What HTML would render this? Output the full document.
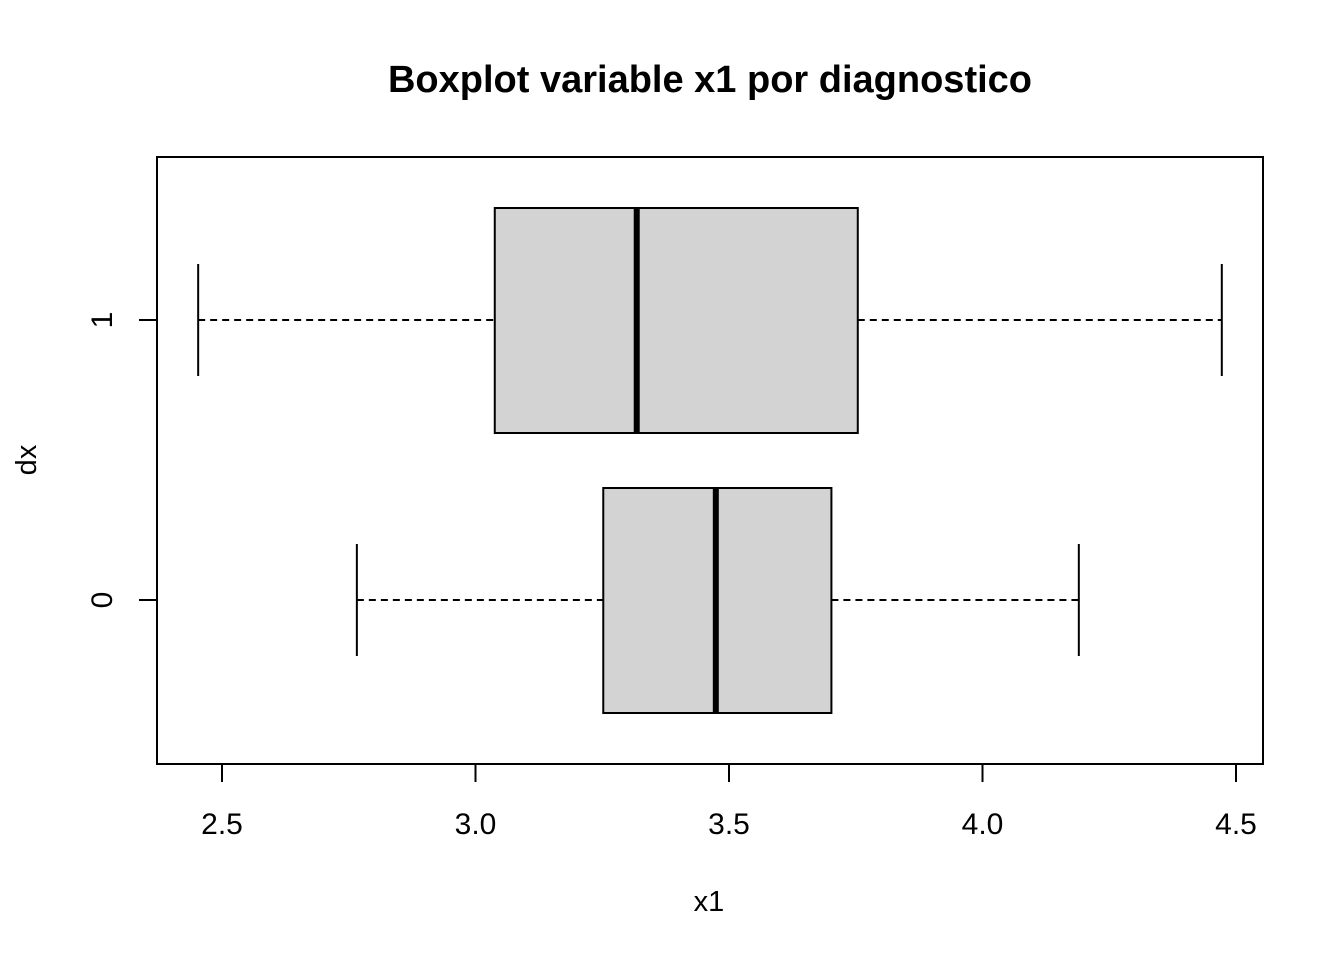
<!DOCTYPE html>
<html><head><meta charset="utf-8"><style>
body{margin:0;background:#fff;}
svg{display:block;font-family:"Liberation Sans",Arial,sans-serif;}
</style></head><body>
<svg id="chart" width="1344" height="960">
<text x="710" y="92" text-anchor="middle" font-size="38" font-weight="bold">Boxplot variable x1 por diagnostico</text>
<rect x="157" y="157" width="1106" height="607" fill="none" stroke="#000" stroke-width="2"/>
<g id="boxes"></g>
<g id="xaxis"></g>
<g id="yaxis"></g>
<text x="709" y="911" text-anchor="middle" font-size="29">x1</text>
<text transform="translate(36,460) rotate(-90)" text-anchor="middle" font-size="29">dx</text>
</svg>
<script>
const groups = ["0","1"];
const whiskerLow = [2.766, 2.453];
const q1 = [3.252, 3.038];
const median = [3.474, 3.318];
const q3 = [3.702, 3.754];
const whiskerHigh = [4.190, 4.472];
const xTicks = [2.5, 3.0, 3.5, 4.0, 4.5];
const xTickLabels = ["2.5","3.0","3.5","4.0","4.5"];

const NS="http://www.w3.org/2000/svg";
function X(v){return 222+(v-2.5)*507;}
function Y(i){return 600-i*280;}
function mk(tag,attrs,parent){const e=document.createElementNS(NS,tag);for(const k in attrs)e.setAttribute(k,attrs[k]);parent.appendChild(e);return e;}
const bx=document.getElementById('boxes');
groups.forEach((g,i)=>{
  const y=Y(i);
  const gg=mk('g',{},bx);
  
  
  let l=mk('line',{x1:X(whiskerLow[i]),x2:X(q1[i]),y1:y,y2:y,stroke:'#000','stroke-width':2,'stroke-dasharray':'7,5'},gg);
  
  
  l=mk('line',{x1:X(q3[i]),x2:X(whiskerHigh[i]),y1:y,y2:y,stroke:'#000','stroke-width':2,'stroke-dasharray':'7,5'},gg);
  
  
  l=mk('line',{x1:X(whiskerLow[i]),x2:X(whiskerLow[i]),y1:y-56,y2:y+56,stroke:'#000','stroke-width':2},gg);
  
  
  l=mk('line',{x1:X(whiskerHigh[i]),x2:X(whiskerHigh[i]),y1:y-56,y2:y+56,stroke:'#000','stroke-width':2},gg);
  
  
  const r=mk('rect',{x:X(q1[i]),y:y-112,width:X(q3[i])-X(q1[i]),height:225,fill:'#d3d3d3',stroke:'#000','stroke-width':2},gg);
  
  
  l=mk('line',{x1:X(median[i]),x2:X(median[i]),y1:y-112,y2:y+113,stroke:'#000','stroke-width':6},gg);
  
  
});
const xa=document.getElementById('xaxis');


mk('line',{x1:X(xTicks[0]),x2:X(xTicks[xTicks.length-1]),y1:764,y2:764,stroke:'#000','stroke-width':2},xa);
xTicks.forEach((t,i)=>{
  mk('line',{x1:X(t),x2:X(t),y1:764,y2:782,stroke:'#000','stroke-width':2},xa);
  const tx=mk('text',{x:X(t),y:834,'text-anchor':'middle','font-size':30},xa);
  tx.textContent=xTickLabels[i];
  
  
});
const ya=document.getElementById('yaxis');


mk('line',{x1:157,x2:157,y1:Y(0),y2:Y(1),stroke:'#000','stroke-width':2},ya);
groups.forEach((g,i)=>{
  mk('line',{x1:139,x2:157,y1:Y(i),y2:Y(i),stroke:'#000','stroke-width':2},ya);
  const tx=mk('text',{transform:`translate(112,${Y(i)}) rotate(-90)`,'text-anchor':'middle','font-size':30},ya);
  tx.textContent=g;
  
  
});
</script>
</body></html>
